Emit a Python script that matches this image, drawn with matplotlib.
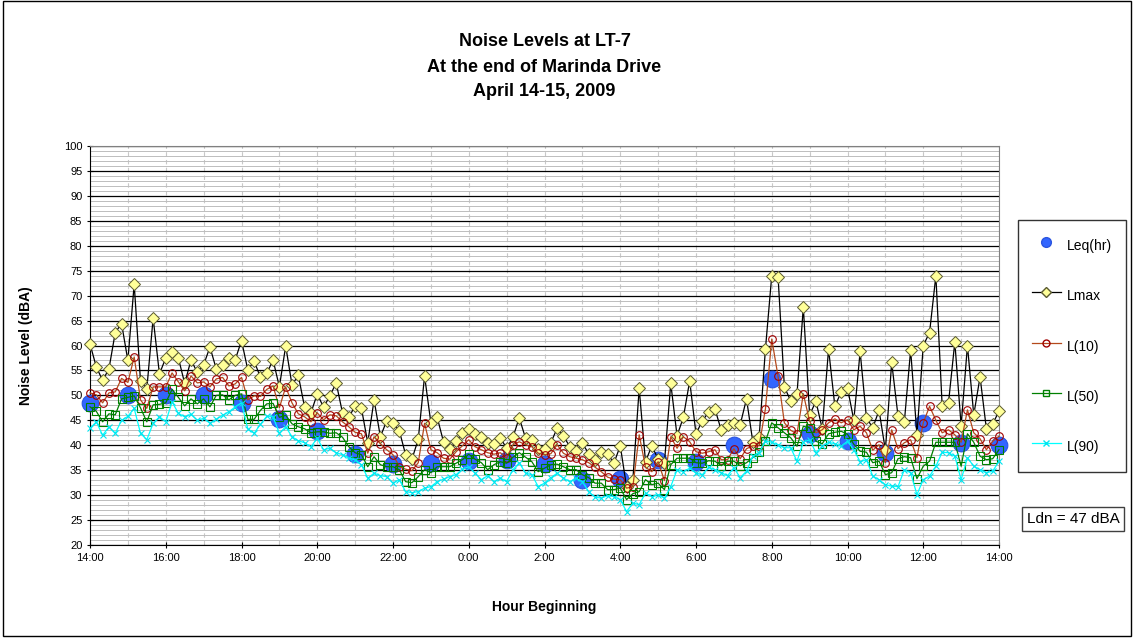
import matplotlib
matplotlib.use('Agg')
import matplotlib.pyplot as plt
import matplotlib.dates as mdates
from matplotlib.lines import Line2D
from matplotlib.patches import Rectangle
from matplotlib.ticker import MultipleLocator, FuncFormatter
import numpy as np
import pandas as pd

plt.rcParams['font.family'] = ['Liberation Sans', 'DejaVu Sans']

START = '2009-04-14 14:00'

# Hourly energy-average level
leq_hr = [48.5, 50.0, 50.0, 50.0, 48.5, 45.2, 42.8, 38.2, 36.2, 36.5, 36.8, 37.0, 36.3,
          33.0, 33.3, 37.0, 36.7, 40.0, 53.2, 42.3, 40.8, 38.5, 44.5, 40.5, 40.0]

# 10-minute statistics
lmax = [60.3, 55.7, 53.0, 55.3, 62.6, 64.4, 57.0, 72.3, 52.9, 51.3, 65.5, 54.3,
        57.5, 58.6, 57.5, 52.4, 57.1, 54.6, 56.1, 59.7, 55.3, 56.1, 57.5, 57.1,
        61.0, 55.1, 56.9, 53.6, 54.4, 57.1, 51.7, 59.9, 52.1, 54.0, 47.6, 46.5,
        50.3, 47.6, 49.9, 52.5, 46.5, 45.6, 47.9, 47.4, 40.5, 49.1, 41.7, 44.9,
        44.4, 42.9, 38.1, 37.2, 41.2, 53.9, 44.5, 45.6, 40.7, 39.3, 40.8, 42.5,
        43.3, 42.3, 41.7, 40.5, 40.3, 41.5, 39.4, 41.6, 45.5, 41.4, 41.1, 39.3,
        39.3, 40.5, 43.4, 41.9, 39.7, 38.9, 40.4, 38.3, 37.1, 38.6, 38.3, 36.4,
        39.9, 31.7, 33.1, 51.4, 36.7, 39.9, 37.2, 36.5, 52.4, 41.9, 45.6, 52.9,
        42.3, 44.9, 46.6, 47.3, 43.0, 44.1, 44.5, 44.1, 49.3, 40.7, 41.6, 59.3,
        74.0, 73.8, 51.7, 48.9, 50.3, 67.7, 46.1, 48.8, 43.3, 59.3, 47.8, 50.7,
        51.5, 45.0, 58.8, 45.5, 43.5, 47.0, 39.0, 56.6, 45.9, 44.6, 59.1, 42.1,
        60.0, 62.6, 74.0, 47.8, 48.5, 60.7, 43.9, 60.0, 46.1, 53.7, 43.3, 44.3,
        46.8]

l10 = [50.5, 50.1, 48.5, 50.5, 50.7, 53.4, 52.6, 57.7, 49.1, 47.4, 51.7, 51.7,
       51.7, 54.5, 52.7, 50.9, 53.9, 52.5, 52.7, 51.7, 53.3, 53.6, 51.9, 52.3,
       53.6, 49.1, 49.9, 49.8, 51.2, 51.9, 47.5, 51.7, 48.5, 46.3, 45.7, 44.7,
       46.5, 45.1, 46.1, 45.9, 44.7, 43.7, 42.6, 42.3, 38.4, 41.7, 40.3, 39.1,
       38.1, 35.7, 35.2, 34.9, 36.5, 44.4, 39.1, 38.5, 37.4, 37.2, 38.7, 39.9,
       41.1, 39.7, 39.1, 38.5, 38.2, 38.5, 37.4, 40.1, 40.7, 40.1, 39.7, 38.4,
       38.1, 38.3, 40.1, 38.4, 37.7, 37.4, 37.1, 36.5, 35.6, 34.7, 33.6, 33.2,
       33.1, 31.4, 31.7, 42.1, 35.6, 34.7, 36.7, 32.9, 41.7, 39.4, 41.7, 40.7,
       38.7, 38.4, 38.7, 39.1, 37.1, 37.1, 39.3, 37.3, 39.3, 39.9, 39.9, 47.3,
       61.3, 53.8, 44.5, 43.0, 42.3, 50.3, 44.8, 42.5, 43.1, 44.5, 45.3, 44.5,
       45.1, 43.1, 43.8, 42.5, 39.0, 40.1, 36.5, 43.1, 39.3, 40.5, 41.1, 37.5,
       44.5, 47.8, 45.0, 42.5, 43.1, 42.1, 40.6, 47.1, 42.5, 41.3, 39.1, 40.8,
       41.8]

l50 = [47.7, 46.8, 44.7, 46.3, 46.1, 49.3, 49.6, 49.9, 47.5, 44.7, 48.1, 48.2,
       48.5, 51.2, 49.6, 47.9, 49.3, 48.3, 49.3, 47.7, 50.0, 50.1, 49.1, 50.0,
       50.3, 45.2, 45.2, 47.0, 48.3, 48.4, 45.6, 46.0, 44.3, 43.7, 43.3, 42.5,
       42.7, 42.7, 42.4, 42.5, 41.6, 39.7, 38.5, 38.1, 35.7, 37.7, 36.1, 35.7,
       35.7, 35.1, 32.7, 32.5, 33.7, 35.1, 34.5, 35.7, 35.7, 35.7, 36.4, 37.1,
       38.2, 37.2, 36.5, 35.1, 36.1, 36.7, 36.4, 37.6, 38.5, 37.6, 36.7, 34.7,
       35.4, 36.1, 36.2, 35.7, 35.1, 35.1, 34.1, 33.5, 32.4, 32.4, 31.1, 31.1,
       31.4, 29.1, 30.3, 30.7, 33.1, 32.1, 32.4, 31.1, 36.1, 37.4, 37.4, 37.4,
       36.5, 36.4, 36.9, 36.8, 35.9, 36.8, 36.8, 35.9, 36.5, 37.5, 38.6, 40.8,
       44.5, 43.5, 42.5, 41.5, 39.8, 43.8, 43.5, 40.8, 40.3, 42.3, 42.6, 42.8,
       42.2, 40.2, 38.8, 38.6, 36.5, 36.8, 34.1, 34.5, 37.3, 37.7, 37.5, 33.3,
       35.8, 36.8, 40.6, 40.6, 40.6, 40.6, 35.8, 42.3, 40.6, 37.8, 37.1, 37.3,
       39.1]

l90 = [43.4, 44.7, 42.0, 43.7, 42.4, 45.0, 45.8, 47.4, 42.4, 41.1, 44.4, 45.7,
       44.7, 48.7, 46.4, 45.7, 46.2, 45.0, 45.4, 44.4, 45.2, 46.0, 46.7, 47.7,
       48.5, 43.3, 42.4, 44.2, 45.8, 45.7, 42.4, 43.7, 41.7, 40.9, 40.5, 39.7,
       41.4, 39.1, 39.4, 38.5, 38.1, 37.4, 37.1, 36.1, 33.4, 34.4, 33.9, 33.7,
       32.4, 33.1, 30.7, 30.5, 30.7, 31.4, 31.7, 32.7, 33.2, 33.7, 34.1, 35.2,
       35.7, 34.4, 33.1, 33.9, 32.7, 33.4, 32.7, 35.1, 36.5, 34.4, 34.1, 31.7,
       32.4, 33.5, 34.4, 33.4, 32.7, 33.4, 32.7, 30.7, 29.6, 29.4, 29.9, 29.7,
       29.1, 26.7, 28.4, 28.1, 30.4, 29.7, 30.1, 29.4, 31.7, 35.1, 34.7, 35.4,
       34.4, 34.1, 35.6, 35.1, 34.5, 33.9, 35.5, 33.5, 34.8, 37.8, 38.5, 40.8,
       40.6, 40.1, 39.5, 39.5, 36.8, 40.6, 41.1, 38.5, 39.8, 40.6, 40.3, 39.8,
       40.8, 39.1, 36.7, 37.1, 33.8, 33.1, 32.1, 31.8, 31.7, 35.1, 34.5, 30.1,
       33.1, 33.8, 35.8, 38.6, 38.5, 37.8, 33.1, 37.5, 35.8, 35.1, 34.5, 34.8,
       36.8]

LDN = 47

t_hour = pd.date_range(START, periods=len(leq_hr), freq='h')
t_10min = pd.date_range(START, periods=len(lmax), freq='10min')

W, H = 1139, 641
fig = plt.figure(figsize=(W / 100, H / 100), dpi=100)
ax = fig.add_axes([90 / W, 1 - 545 / H, (999 - 90) / W, (545 - 146) / H])

# Series, drawn in legend order so the later ones sit on top
line_kw = dict(clip_on=False, zorder=3)
ax.plot(t_hour, leq_hr, 'o', ms=12, mfc='#3366FF', mec='#2B55E0', mew=0.8, **line_kw)
ax.plot(t_10min, lmax, '-', color='black', lw=0.9, marker='D', ms=6,
        mfc='#FFFF99', mec='#5A5A30', mew=0.7, **line_kw)
ax.plot(t_10min, l10, '-', color='#B4491B', lw=0.9, marker='o', ms=5.5,
        mfc='none', mec='#A00000', mew=0.8, **line_kw)
ax.plot(t_10min, l50, '-', color='#008000', lw=0.9, marker='s', ms=5.5,
        mfc='none', mec='#008000', mew=0.8, **line_kw)
ax.plot(t_10min, l90, '-', color='#00FFFF', lw=0.9, marker='x', ms=5,
        mec='#00E5F0', mew=0.8, **line_kw)

ax.set_xlim(t_hour[0], t_hour[-1])
ax.set_ylim(20, 100)

# y axis: 1 dB minor grid, 5 dB major grid
ax.yaxis.set_major_locator(MultipleLocator(5))
ax.yaxis.set_minor_locator(MultipleLocator(1))
ax.grid(axis='y', which='minor', color='#BDBDBD', lw=0.7, zorder=0)
ax.grid(axis='y', which='major', color='black', lw=0.9, zorder=0.5)
ax.tick_params(axis='y', which='minor', length=0)

# x axis: labels every 2 h, dashed grid every hour
ax.xaxis.set_major_locator(mdates.HourLocator(interval=2))
ax.xaxis.set_minor_locator(mdates.HourLocator())
ax.xaxis.set_major_formatter(FuncFormatter(
    lambda v, pos: '{}:{:02d}'.format(mdates.num2date(v).hour, mdates.num2date(v).minute)))
ax.grid(axis='x', which='both', color='#C8C8C8', lw=0.8, ls=(0, (4, 3)), zorder=0)
ax.tick_params(axis='x', which='minor', length=0)
ax.tick_params(axis='both', which='major', labelsize=8, length=4, width=0.8,
               direction='inout', colors='black')
ax.set_axisbelow(True)

for side in ('top', 'right'):
    ax.spines[side].set_color('#808080')
for side in ('left', 'bottom'):
    ax.spines[side].set_color('black')

ax.set_ylabel('Noise Level (dBA)', fontsize=10, fontweight='bold', labelpad=22)
ax.set_xlabel('Hour Beginning', fontsize=10, fontweight='bold', labelpad=27)

title_x = 0.5 * (90 + 999) / W
title_lines = ['Noise Levels at LT-7', 'At the end of Marinda Drive', 'April 14-15, 2009']
for k, line in enumerate(title_lines):
    fig.text(title_x, 1 - (42 + 25 * k) / H, line, ha='center', va='center',
             fontsize=13, fontweight='bold')

handles = [
    Line2D([], [], ls='none', marker='o', ms=7, mfc='#3366FF', mec='#2B55E0'),
    Line2D([], [], color='black', lw=0.9, marker='D', ms=5, mfc='#FFFF99', mec='#5A5A30'),
    Line2D([], [], color='#B4491B', lw=0.9, marker='o', ms=5, mfc='none', mec='#A00000'),
    Line2D([], [], color='#008000', lw=0.9, marker='s', ms=5, mfc='none', mec='#008000'),
    Line2D([], [], color='#00FFFF', lw=0.9, marker='x', ms=5, mec='#00E5F0'),
]
labels = ['Leq(hr)', 'Lmax', 'L(10)', 'L(50)', 'L(90)']
leg = fig.legend(handles, labels, loc='upper left', bbox_to_anchor=(1018 / W, 1 - 220 / H),
                 fontsize=10, frameon=True, fancybox=False, edgecolor='black',
                 borderpad=1.0, labelspacing=1.95, handleheight=2.2, handlelength=2.1,
                 handletextpad=0.4, borderaxespad=0)
leg.get_frame().set_linewidth(1.0)

fig.text(1073 / W, 1 - 519 / H, 'Ldn = {} dBA'.format(LDN), ha='center', va='center', fontsize=11,
         bbox=dict(boxstyle='square,pad=0.3', fc='white', ec='#404040', lw=1.0))

# Chart-area border
fig.patches.append(Rectangle((3 / W, 1 - 636 / H), (1131 - 3) / W, (636 - 1) / H,
                             transform=fig.transFigure, fill=False, ec='black', lw=1.0))

fig.savefig('out.png', dpi=100)
